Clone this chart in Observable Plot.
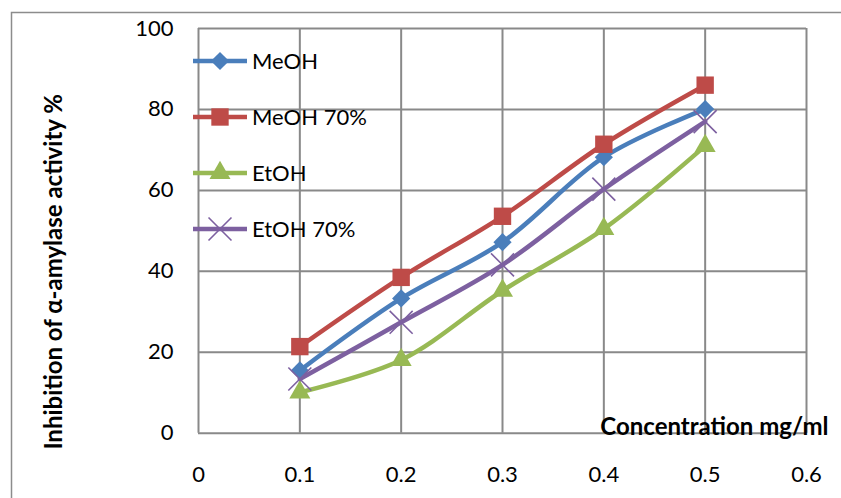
<!DOCTYPE html>
<html>
<head>
<meta charset="utf-8">
<script src="https://cdn.jsdelivr.net/npm/d3@7"></script>
<script src="https://cdn.jsdelivr.net/npm/@observablehq/plot@0.6"></script>
<style>
  html, body { margin: 0; padding: 0; background: #fff; }
  #chart { width: 841px; height: 498px; overflow: hidden; }
</style>
</head>
<body>
<div id="chart"></div>
<script>
const concentrations = [0.1, 0.2, 0.3, 0.4, 0.5];
const seriesNames = ["MeOH", "MeOH 70%", "EtOH", "EtOH 70%"];
const meoh     = [15.5, 33.3, 47.2, 68.2, 80.1];
const meoh70   = [21.4, 38.5, 53.6, 71.4, 86.0];
const etoh     = [10.1, 18.1, 35.2, 50.5, 71.0];
const etoh70   = [13.4, 27.4, 41.6, 60.3, 77.0];
const xTicks = [0, 0.1, 0.2, 0.3, 0.4, 0.5, 0.6];
const xTickLabels = ["0", "0.1", "0.2", "0.3", "0.4", "0.5", "0.6"];
const yTicks = [0, 20, 40, 60, 80, 100];
const yTickLabels = ["0", "20", "40", "60", "80", "100"];
const xTitle = "Concentration mg/ml";
const yTitle = "Inhibition of α-amylase activity %";

const seriesValues = [meoh, meoh70, etoh, etoh70];
const colors = ["#4A7EBB", "#BE4B48", "#98B954", "#7D60A0"];
const symbols = ["diamond2", "square", "triangle", "times"];
const symbolR = [8.2, 9.8, 7.8, 10.5];

const series = seriesNames.map((name, i) => ({
  name, color: colors[i], symbol: symbols[i], r: symbolR[i],
  data: concentrations.map((c, j) => ({x: c, y: seriesValues[i][j]}))
}));

const gridColor = "#898989";
const FONT = "Lato, 'Open Sans', sans-serif";
const TICK_FS = 22;

const marks = [
  Plot.ruleY(yTicks, {y: d => d, stroke: gridColor, strokeWidth: 2}),
  Plot.ruleX(xTicks, {x: d => d, stroke: gridColor, strokeWidth: 2}),
  Plot.axisY({ticks: yTicks, tickSize: 0, tickPadding: 25, fontSize: TICK_FS,
              tickFormat: (d) => yTickLabels[yTicks.indexOf(d)], label: null}),
  Plot.axisX({ticks: xTicks, tickSize: 0, tickPadding: 33, fontSize: TICK_FS,
              tickFormat: (d) => xTickLabels[xTicks.findIndex(t => Math.abs(t - d) < 1e-9)], label: null}),
];
for (const s of series) {
  marks.push(Plot.line(s.data, {x: "x", y: "y", stroke: s.color, strokeWidth: 4.5, curve: "catmull-rom"}));
}
for (const s of series) {
  if (s.symbol === "times") {
    marks.push(Plot.dot(s.data, {x: "x", y: "y", symbol: "times", r: s.r, stroke: s.color, strokeWidth: 1.6}));
  } else {
    marks.push(Plot.dot(s.data, {x: "x", y: "y", symbol: s.symbol, r: s.r, fill: s.color, stroke: "none"}));
  }
}
marks.push(Plot.text([yTitle], {frameAnchor: "left", dx: -144, dy: 41, rotate: -90, textAnchor: "middle",
  fontWeight: "bold", fontSize: 24, fill: "black", text: d => d}));
marks.push(Plot.text([xTitle], {frameAnchor: "bottom-right", dx: 22, dy: 2, textAnchor: "end",
  lineAnchor: "bottom", fontWeight: "bold", fontSize: 24, fill: "black", text: d => d}));

const plot = Plot.plot({
  width: 841,
  height: 498,
  marginLeft: 198,
  marginRight: 35,
  marginTop: 28,
  marginBottom: 65.3,
  x: {domain: [0, 0.6]},
  y: {domain: [0, 100]},
  style: {fontFamily: FONT, fontSize: "22px", color: "black", background: "white", overflow: "visible"},
  marks
});

// outer chart border + legend drawn into the same SVG
const svg = d3.select(plot);
svg.insert("path", ":first-child")
  .attr("d", "M11.5,498 L11.5,12.5 L841,12.5")
  .attr("fill", "none").attr("stroke", "#8c8c8c").attr("stroke-width", 1.5);

const legend = svg.append("g").attr("transform", "translate(193,61)");
series.forEach((s, i) => {
  const g = legend.append("g").attr("transform", `translate(0,${i * 56})`);
  g.append("line").attr("x1", 0).attr("x2", 54).attr("y1", 0).attr("y2", 0)
    .attr("stroke", s.color).attr("stroke-width", 4.5);
  const symMap = {diamond2: d3.symbolDiamond2, square: d3.symbolSquare, triangle: d3.symbolTriangle, times: d3.symbolTimes};
  const size = Math.PI * s.r * s.r;
  const p = g.append("path").attr("transform", "translate(27,0)")
    .attr("d", d3.symbol(symMap[s.symbol], size)());
  if (s.symbol === "times") p.attr("fill", "none").attr("stroke", s.color).attr("stroke-width", 1.6);
  else p.attr("fill", s.color);
  g.append("text").attr("x", 59).attr("y", 0).attr("dy", "0.36em")
    .attr("text-anchor", "start")
    .attr("font-family", FONT).attr("font-size", 22).attr("fill", "black").text(s.name);
});

document.getElementById("chart").appendChild(plot);
</script>
</body>
</html>
